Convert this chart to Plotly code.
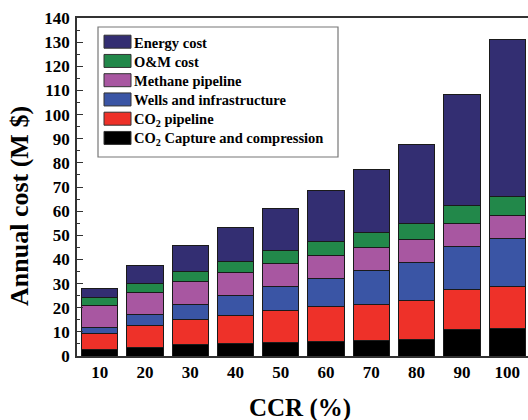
import plotly.graph_objects as go

ccr = ["10", "20", "30", "40", "50", "60", "70", "80", "90", "100"]
capture = [2.8, 3.7, 4.7, 5.1, 5.5, 5.9, 6.5, 6.9, 10.9, 11.3]
co2_pipeline = [6.7, 9.1, 10.3, 11.8, 13.3, 14.4, 14.9, 15.9, 16.7, 17.6]
wells = [2.4, 4.3, 6.4, 8.2, 10.1, 11.9, 14.2, 16.0, 17.8, 19.9]
methane = [9.2, 9.3, 9.3, 9.4, 9.3, 9.5, 9.3, 9.5, 9.4, 9.3]
om = [3.1, 3.6, 4.2, 4.7, 5.3, 5.8, 6.2, 6.5, 7.5, 7.8]
energy = [3.6, 7.3, 10.7, 14.1, 17.5, 21.0, 26.2, 33.0, 46.2, 65.4]

series = [
    ("CO<sub>2</sub> Capture and compression", capture, "#000000"),
    ("CO<sub>2</sub> pipeline", co2_pipeline, "#EE3129"),
    ("Wells and infrastructure", wells, "#3A55A5"),
    ("Methane pipeline", methane, "#A857A1"),
    ("O&M cost", om, "#22884A"),
    ("Energy cost", energy, "#332E72"),
]

FONT = "Liberation Serif"
W, H = 528, 420
ML, MR, MT, MB = 77, 0, 18, 64
PW, PH = W - ML - MR, H - MT - MB


def px_x(p):
    return (p - ML) / PW


def px_y(p):
    return (H - MB - p) / PH


fig = go.Figure()
for name, vals, col in series:
    fig.add_trace(go.Bar(
        x=ccr, y=vals, name=name, showlegend=False,
        marker=dict(color=col, line=dict(color="#1a1a1a", width=1)),
    ))

# Manual legend (box, swatches, labels)
shapes = [dict(type="rect", xref="paper", yref="paper",
               x0=px_x(98), x1=px_x(338), y0=px_y(157), y1=px_y(27),
               line=dict(color="#777777", width=1.2), fillcolor="white", layer="above")]
annotations = []
for i, (name, vals, col) in enumerate(reversed(series)):
    cy = 41.7 + i * 19.25
    shapes.append(dict(type="rect", xref="paper", yref="paper",
                       x0=px_x(104), x1=px_x(131), y0=px_y(cy + 6.5), y1=px_y(cy - 6.5),
                       line=dict(color="#333333", width=1), fillcolor=col, layer="above"))
    annotations.append(dict(text=name, xref="paper", yref="paper",
                            x=px_x(132), y=px_y(cy + 1), xanchor="left", yanchor="middle",
                            showarrow=False,
                            font=dict(family=FONT, size=14.5, weight="bold", color="black")))

annotations += [
    dict(text="Annual cost (M $)", textangle=-90, xref="paper", yref="paper",
         x=px_x(20), y=px_y(206), xanchor="center", yanchor="middle", showarrow=False,
         font=dict(family=FONT, size=26, weight="bold", color="black")),
    dict(text="CCR (%)", xref="paper", yref="paper",
         x=px_x(300), y=px_y(408), xanchor="center", yanchor="middle", showarrow=False,
         font=dict(family=FONT, size=25, weight="bold", color="black")),
]

fig.update_layout(
    width=W, height=H,
    margin=dict(l=ML, r=MR, t=MT, b=MB),
    barmode="stack", bargap=0.2,
    plot_bgcolor="white", paper_bgcolor="white",
    font=dict(family=FONT, size=17, color="black", weight="bold"),
    showlegend=False,
    xaxis=dict(
        type="category", range=[-0.5, 9.46],
        showline=True, linecolor="#333333", linewidth=1.5, mirror=True,
        ticks="", showgrid=False, ticklabelstandoff=0,
        tickfont=dict(family=FONT, size=17, weight="bold"),
    ),
    yaxis=dict(
        range=[0, 140], dtick=10, tick0=0,
        showline=True, linecolor="#333333", linewidth=1.5,
        ticks="inside", ticklen=6, tickwidth=1.2, tickcolor="#333333",
        minor=dict(dtick=5, ticks="inside", ticklen=3, tickcolor="#333333", tickwidth=1),
        showgrid=False, zeroline=False, ticklabelstandoff=2,
        tickfont=dict(family=FONT, size=17, weight="bold"),
    ),
    shapes=shapes,
    annotations=annotations,
)

fig.write_html("out.html", config={"displayModeBar": False},
               post_script="document.body.style.margin='0';document.body.style.overflow='hidden';")
